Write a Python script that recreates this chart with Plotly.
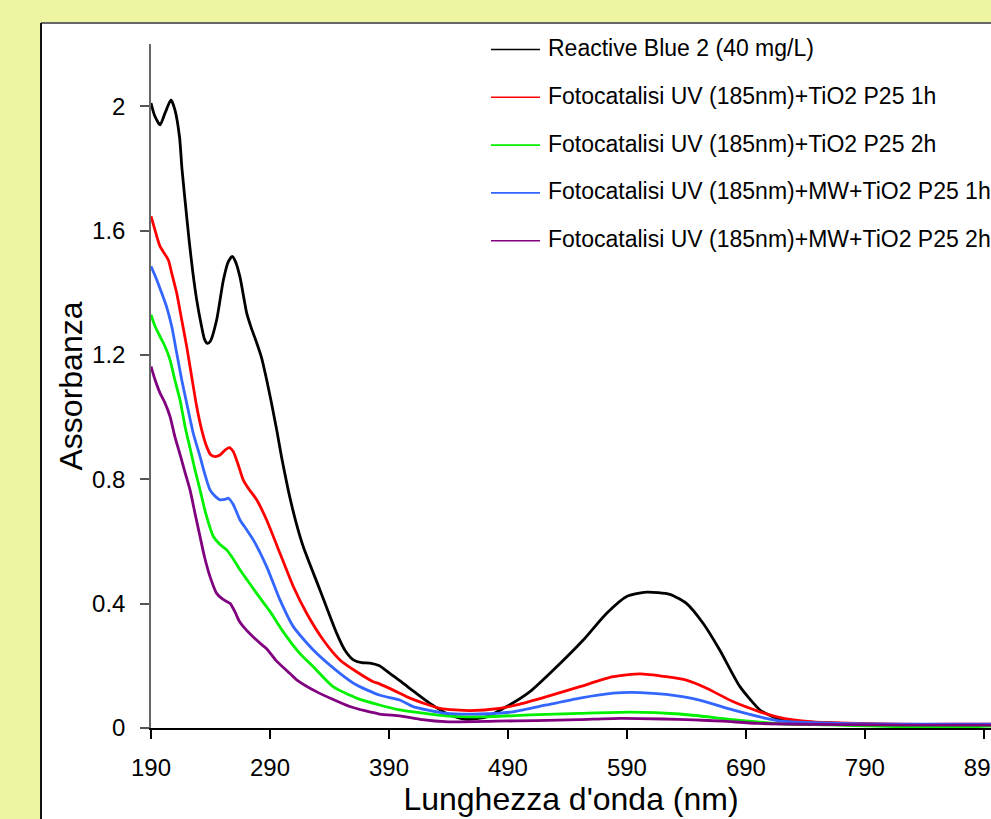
import plotly.graph_objects as go

# Absorption spectra of Reactive Blue 2 before and after photocatalytic treatment
wl_rb2 = [190, 193, 197.6, 202, 206.8, 210, 214, 216, 219.4, 222, 225, 228.4, 232.6, 235,
          237.4, 240, 245.2, 250.8, 255, 258.3, 261, 264.8, 270.4, 274, 278.8, 283, 287.2,
          291, 295.6, 299.8, 304, 306.8, 312, 318, 332, 346, 353, 360, 367, 374, 382, 391, 400,
          410, 424.4, 441, 455.3, 472, 489, 508.5, 531, 553.3, 573, 589.8, 606.5, 626, 640, 654,
          668, 685, 701.8, 712.7, 720, 740, 770, 800, 850, 896]
abs_rb2 = [2.01, 1.97, 1.94, 1.98, 2.02, 1.99, 1.90, 1.80, 1.667, 1.57, 1.47, 1.377, 1.29, 1.25,
           1.237, 1.245, 1.313, 1.44, 1.50, 1.517, 1.50, 1.45, 1.335, 1.29, 1.239, 1.19, 1.12,
           1.05, 0.96, 0.87, 0.79, 0.74, 0.66, 0.583, 0.444, 0.305, 0.25, 0.219, 0.21, 0.209,
           0.20, 0.175, 0.15, 0.12, 0.079, 0.042, 0.028, 0.036, 0.069, 0.117, 0.197, 0.283,
           0.369, 0.423, 0.437, 0.43, 0.401, 0.337, 0.251, 0.133, 0.058, 0.036, 0.025, 0.02,
           0.015, 0.012, 0.01, 0.01]

wl_uv1 = [190, 192, 197.6, 204.5, 207.4, 211.6, 215.8, 220, 224.2, 228.4, 232.6, 236.8, 240,
          243.8, 248, 252, 255.7, 259, 263, 267.5, 272, 278.8, 287.2, 298.4, 309.6, 320.8,
          334.8, 348.8, 362.8, 376.8, 382, 399, 407.6, 432.9, 458, 483, 500, 522.5, 550.5,
          578.4, 601, 623, 640, 657, 679, 701.8, 716, 730, 746, 783, 820, 860, 896]
abs_uv1 = [1.646, 1.62, 1.549, 1.506, 1.463, 1.399, 1.313, 1.227, 1.13, 1.034, 0.959, 0.905,
           0.88, 0.873, 0.878, 0.893, 0.902, 0.89, 0.85, 0.798, 0.77, 0.734, 0.669, 0.562,
           0.455, 0.369, 0.283, 0.219, 0.181, 0.149, 0.142, 0.112, 0.096, 0.063, 0.056, 0.063,
           0.077, 0.101, 0.133, 0.165, 0.174, 0.165, 0.154, 0.128, 0.085, 0.052, 0.036, 0.026,
           0.02, 0.015, 0.012, 0.012, 0.012]

wl_uv2 = [190, 193.4, 197.6, 201.8, 206, 210, 214.4, 218.6, 222.8, 227, 231.2, 236, 242.4,
          248, 253.6, 258, 264.8, 271, 278.8, 290, 301, 315, 326.4, 343, 362.8, 382, 399, 410,
          438, 466, 508.5, 550, 592.5, 634.5, 676.5, 704.5, 720, 760, 800, 830, 880, 896]
abs_uv2 = [1.329, 1.292, 1.259, 1.227, 1.184, 1.12, 1.055, 0.97, 0.9, 0.83, 0.766, 0.69,
           0.616, 0.59, 0.573, 0.55, 0.509, 0.475, 0.433, 0.375, 0.31, 0.24, 0.197, 0.133,
           0.096, 0.074, 0.058, 0.052, 0.039, 0.036, 0.042, 0.047, 0.051, 0.045, 0.028, 0.018,
           0.013, 0.01, 0.006, 0.004, 0.004, 0.006]

wl_mw1 = [190, 194.8, 199, 203, 207.4, 211.6, 215.8, 220, 225.5, 231, 235, 239.6, 244, 248,
          252, 255, 259, 264.8, 270, 276, 287.2, 298.4, 309.6, 326.4, 348.8, 362.8, 382, 399,
          410.3, 438.4, 466.5, 494.4, 522.5, 550.5, 578.4, 601, 623, 651, 679, 707, 720, 746,
          790, 850, 896]
abs_mw1 = [1.485, 1.442, 1.399, 1.356, 1.292, 1.206, 1.12, 1.045, 0.948, 0.876, 0.82, 0.766,
           0.745, 0.734, 0.735, 0.739, 0.72, 0.669, 0.64, 0.605, 0.519, 0.412, 0.326, 0.251,
           0.176, 0.138, 0.106, 0.09, 0.069, 0.047, 0.045, 0.052, 0.074, 0.096, 0.112, 0.114,
           0.108, 0.09, 0.058, 0.031, 0.022, 0.017, 0.013, 0.012, 0.012]

wl_mw2 = [190, 193.4, 197.6, 201.8, 206, 210, 214.4, 218, 222.8, 227, 231.2, 235, 239.6, 245.2,
          250, 256.4, 259, 261, 264, 267.6, 274, 281.6, 287.2, 295.6, 306.8, 312.4, 329, 357,
          382, 399, 416, 440, 480, 514, 550, 584, 620, 646, 670, 700, 740, 800, 850, 896]
abs_mw2 = [1.163, 1.12, 1.077, 1.045, 1.002, 0.938, 0.88, 0.83, 0.766, 0.69, 0.616, 0.55,
           0.487, 0.433, 0.415, 0.401, 0.385, 0.37, 0.345, 0.326, 0.30, 0.273, 0.255, 0.215,
           0.175, 0.155, 0.117, 0.069, 0.045, 0.039, 0.028, 0.02, 0.022, 0.024, 0.027, 0.031,
           0.029, 0.026, 0.022, 0.015, 0.012, 0.01, 0.009, 0.009]

series_names = [
    "Reactive Blue 2 (40 mg/L)",
    "Fotocatalisi UV (185nm)+TiO2 P25 1h",
    "Fotocatalisi UV (185nm)+TiO2 P25 2h",
    "Fotocatalisi UV (185nm)+MW+TiO2 P25 1h",
    "Fotocatalisi UV (185nm)+MW+TiO2 P25 2h",
]
series_colors = ["#000000", "#ff0000", "#00f000", "#3366ff", "#800080"]
series_x = [wl_rb2, wl_uv1, wl_uv2, wl_mw1, wl_mw2]
series_y = [abs_rb2, abs_uv1, abs_uv2, abs_mw1, abs_mw2]

x_ticks = [190, 290, 390, 490, 590, 690, 790, 890]
y_ticks = [0, 0.4, 0.8, 1.2, 1.6, 2]
y_ticktext = ["0", "0.4", "0.8", "1.2", "1.6", "2"]

FONT = "Liberation Sans, Arial, sans-serif"
W, H = 991, 819
ML, MR, MT, MB = 151, 0, 44, 91
PW, PH = W - ML - MR, H - MT - MB


def px_to_paper(px, py):
    return (px - ML) / PW, (H - MB - py) / PH


fig = go.Figure()
for name, color, xs, ys in zip(series_names, series_colors, series_x, series_y):
    fig.add_trace(go.Scatter(x=xs, y=ys, mode="lines", name=name,
                             line=dict(color=color, width=2.8, shape="spline", smoothing=0.6),
                             showlegend=False))

shapes = []
# white panel with dark frame on the left and top
x0, y0 = px_to_paper(41, 23)
shapes.append(dict(type="rect", xref="paper", yref="paper", x0=x0, x1=1.2, y0=-0.3, y1=y0,
                   fillcolor="white", line=dict(width=0), layer="below"))
shapes.append(dict(type="line", xref="paper", yref="paper", x0=x0, x1=1.2, y0=y0, y1=y0,
                   line=dict(color="#666666", width=2)))
shapes.append(dict(type="line", xref="paper", yref="paper", x0=x0, x1=x0, y0=-0.3, y1=y0,
                   line=dict(color="#111111", width=2)))

# legend drawn as line samples with labels
annotations = []
for i, (name, color) in enumerate(zip(series_names, series_colors)):
    row_y = 48 + i * 47.8
    lx0, ly = px_to_paper(491, row_y + 1.5)
    lx1, _ = px_to_paper(540, row_y + 1.5)
    shapes.append(dict(type="line", xref="paper", yref="paper", x0=lx0, x1=lx1, y0=ly, y1=ly,
                       line=dict(color=color, width=1.6)))
    tx, ty = px_to_paper(546, row_y)
    annotations.append(dict(xref="paper", yref="paper", x=tx, y=ty, text=name, showarrow=False,
                            xanchor="left", yanchor="middle",
                            font=dict(family=FONT, size=23, color="black")))

fig.update_layout(
    width=W, height=H, autosize=False,
    margin=dict(l=ML, r=MR, t=MT, b=MB, pad=0),
    paper_bgcolor="#eef5a2",
    plot_bgcolor="white",
    shapes=shapes,
    annotations=annotations,
    font=dict(family=FONT, color="black"),
)
fig.update_xaxes(
    range=[190, 896], tickvals=x_ticks, ticks="outside", ticklen=9, tickwidth=1.5,
    tickcolor="black", showline=True, linecolor="black", linewidth=1.5,
    showgrid=False, zeroline=False, tickfont=dict(family=FONT, size=24, color="black"),
    ticklabelstandoff=8, ticklabeloverflow="allow", automargin=False,
    title=dict(text="Lunghezza d'onda (nm)", font=dict(family=FONT, size=32, color="black"),
               standoff=0),
)
fig.update_yaxes(
    range=[0, 2.2], tickvals=y_ticks, ticktext=y_ticktext, ticks="outside", ticklen=9,
    tickwidth=1.5, tickcolor="#555555", showline=True, linecolor="#666666", linewidth=1.5,
    showgrid=False, zeroline=False, tickfont=dict(family=FONT, size=24, color="black"),
    ticklabelstandoff=10, automargin=False,
    title=dict(text="Assorbanza", font=dict(family=FONT, size=32, color="black"), standoff=0),
)

fig.write_html("out.html")
